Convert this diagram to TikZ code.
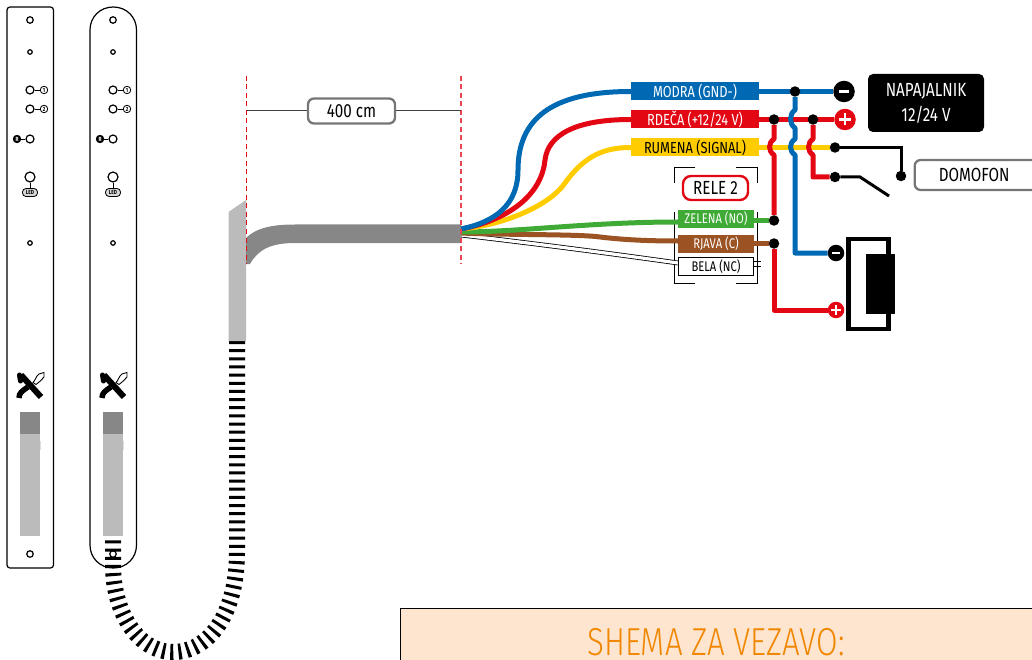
\documentclass[tikz,border=0pt]{standalone}
\usepackage{fontspec}
\setmainfont[FakeStretch=0.8]{Fira Sans}
\newfontfamily\titlefont[FakeStretch=0.8]{Fira Sans Light}
\usetikzlibrary{positioning, calc, backgrounds}

\begin{document}
\begin{tikzpicture}[x=1pt, y=-1pt, align=center,
        wire/.style={line width=5pt, line join=round},
        wireblue/.style={wire, draw=wblue},
        wirered/.style={wire, draw=wred},
        wireyellow/.style={wire, draw=wyellow},
        tag/.style={rectangle, minimum height=18pt, inner sep=0pt, font=\fontsize{16}{18}\selectfont},
        smalltag/.style={tag, minimum width=76pt, font=\fontsize{14}{16}\selectfont},
        bigtag/.style={tag, minimum width=128pt},
        dot/.style={circle, fill=black, minimum size=10.5pt, inner sep=0pt},
        pole/.style={circle, minimum size=16.5pt, inner sep=0pt},
        bigpole/.style={pole, minimum size=21.5pt},
        namebox/.style={draw=wgrey, line width=2.3pt, rounded corners=6pt, fill=white, inner sep=0pt, font=\fontsize{19}{21}\selectfont},
        hole/.style={circle, draw=black, line width=1.2pt, fill=white, inner sep=0pt},
        tinymark/.style={circle, draw=black, line width=.8pt, minimum size=7.5pt, inner sep=0pt, font=\bfseries\fontsize{6}{6}\selectfont},
        bracket/.style={draw=black, line width=1pt},
        switchline/.style={draw=black, line width=3pt}]
    % Define colors
    \definecolor{wblue}{HTML}{0069B4}
    \definecolor{wred}{HTML}{E30613}
    \definecolor{wyellow}{HTML}{FFCC00}
    \definecolor{wgreen}{HTML}{3FAA35}
    \definecolor{wbrown}{HTML}{9C5323}
    \definecolor{wgrey}{HTML}{767676}
    \definecolor{cablegrey}{HTML}{878787}
    \definecolor{sleevegrey}{HTML}{BBBBBB}
    \definecolor{panelfill}{HTML}{FDE5D0}
    \definecolor{titleorange}{HTML}{F18700}

    \useasboundingbox (0,0) rectangle (1032,660);

    % Plates
    \draw[line width=1.2pt, rounded corners=3pt] (7,7) rectangle (53.5,568);
    \draw[line width=1.2pt] (90,30) .. controls (90,17) and (100,7) .. (113.25,7) .. controls (126.5,7) and (136.5,17) .. (136.5,30)
        -- (136.5,545) .. controls (136.5,558) and (126.5,568) .. (113.25,568) .. controls (100,568) and (90,558) .. (90,545) -- cycle;

    \foreach \px in {30,113} {
        \begin{scope}[shift={(\px,0)}]
            \node[hole, minimum size=6.5pt] (top\px) at (0,20) {};
            \node[hole, minimum size=4.5pt] (upper\px) at (0,52) {};
            \node[hole, minimum size=8pt] (one\px) at (0,90) {};
            \node[hole, minimum size=8pt] (two\px) at (0,109) {};
            \node[hole, minimum size=8pt] (reset\px) at (0,139) {};
            \node[hole, minimum size=10pt] (led\px) at (0,177) {};
            \node[hole, minimum size=4.5pt] (lower\px) at (0,243) {};
            \node[tinymark] (oneMark\px) at (14,90) {1};
            \node[tinymark] (twoMark\px) at (14,109) {2};
            \node[tinymark, fill=black, text=white] (resetMark\px) at (-13,139) {R};
            \node[draw=black, line width=.8pt, fill=sleevegrey!60, rounded corners=3.5pt, minimum width=15pt, minimum height=8pt, inner sep=0pt, font=\bfseries\fontsize{6}{6}\selectfont] (ledMark\px) at (0,192.5) {LED};
            \draw[line width=.8pt] (one\px) -- (oneMark\px);
            \draw[line width=.8pt] (two\px) -- (twoMark\px);
            \draw[line width=.8pt] (reset\px) -- (resetMark\px);
            \draw[line width=.8pt] (led\px) -- (ledMark\px);

            % Logo
            \draw[line width=.9pt, fill=white] (3,382.5) .. controls (5,381) and (6,376) .. (9,374) -- (14,372.5) -- (14,377) .. controls (12,380) and (9,382) .. (6,384.5) -- cycle;
            \draw[line width=6pt] (-9,375) -- (11,397);
            \draw[line width=5pt, line cap=round] (-10.5,375) -- (-9.5,381);
            \draw[line width=5.5pt] (-11,398) .. controls (-11,393) and (-8,391) .. (-2,387);

            % Sleeve
            \fill[sleevegrey!50] (9,441) rectangle (11,450);
            \fill[sleevegrey] (-10,434) rectangle (10,536);
            \fill[cablegrey] (-10,412) rectangle (10,434);
        \end{scope}
    }
    \node[hole, minimum size=6.5pt] (foot30) at (30,554) {};
    \node[hole, minimum size=6.5pt] (foot113) at (113,554) {};

    % Ribbed cable
    \draw[line width=16pt, dash pattern=on 3pt off 5.15pt] (237,341) -- (237,552)
        .. controls (237,615) and (208,652) .. (173,652)
        .. controls (138,652) and (113,612) .. (113,565) -- (113,538);

    % Sleeve and cable
    \fill[sleevegrey] (228.5,212) -- (246,200) -- (246,341) -- (228.5,341) -- cycle;
    \fill[cablegrey] (246,238) .. controls (256,228) and (272,224.5) .. (295,224.5) -- (461,224.5)
        -- (461,243) -- (295,243) .. controls (270,243) and (258,250) .. (250,264) -- (246,264) -- cycle;

    % Length
    \draw[wred, line width=1.5pt, dash pattern=on 5pt off 3.5pt] (246.5,76) -- (246.5,264);
    \draw[wred!75, line width=1.5pt, dash pattern=on 5pt off 3.5pt] (461,76) -- (461,264);
    \coordinate (lenLeft) at (246.5,111);
    \coordinate (lenRight) at (461,111);
    \node[namebox, minimum width=87pt, minimum height=25pt] (length) at (351.5,111) {400 cm};
    \draw[line width=1pt, draw=black!75] (lenLeft) -- (length);
    \draw[line width=1pt, draw=black!75] (length) -- (lenRight);

    % Wire tags
    \node[bigtag, fill=wblue, text=white] (blueTag) at (695,91.5) {MODRA (GND-)};
    \node[bigtag, fill=wred, text=white] (redTag) at (695,119.5) {RDEČA (+12/24 V)};
    \node[bigtag, fill=wyellow, text=black] (yellowTag) at (695,147.5) {RUMENA (SIGNAL)};
    \node[smalltag, fill=wgreen, text=white] (greenTag) at (716,219) {ZELENA (NO)};
    \node[smalltag, fill=wbrown, text=white] (brownTag) at (716,244) {RJAVA (C)};
    \node[smalltag, draw=black, line width=1pt, fill=white, minimum width=75pt] (whiteTag) at (716,266.5) {BELA (NC)};

    \node[draw=wred, line width=2.4pt, rounded corners=8pt, minimum width=65pt, minimum height=24pt, inner sep=0pt, font=\fontsize{19}{21}\selectfont] (relay) at (715.5,188) {RELE 2};

    % Relay brackets
    \begin{scope}[on background layer]
        \draw[bracket] (674,183) -- (674,168) -- (695,168);
        \draw[bracket] (736,168) -- (757,168) -- (757,183);
        \draw[bracket] (674,212) -- (674,283) -- (695,283);
        \draw[bracket] (736,283) -- (757,283) -- (757,212);
    \end{scope}

    % Junctions and poles
    \node[dot] (blueTop) at (795,91.5) {};
    \node[dot] (redLeft) at (774,119.5) {};
    \node[dot] (redRight) at (813,119.5) {};
    \node[dot] (greenEnd) at (774,220.5) {};
    \node[dot] (brownEnd) at (774,243.5) {};
    \node[dot] (signalIn) at (835,147.5) {};
    \node[dot] (switchIn) at (835,177) {};
    \node[dot] (switchOut) at (901,176) {};

    % Lock
    \node[draw=black, line width=4.5pt, minimum width=40pt, minimum height=90pt, inner sep=0pt] (lock) at (868.5,284) {};
    \node[fill=black, minimum width=29pt, minimum height=60pt, inner sep=0pt] (lockCore) at (880.5,284) {};

    \node[bigpole, fill=black] (supplyMinus) at (844,91.5) {};
    \node[bigpole, fill=wred] (supplyPlus) at (845,119.5) {};
    \node[pole, fill=black] (lockMinus) at (836,253) {};
    \node[pole, fill=wred] (lockPlus) at (836,310) {};
    \draw[white, line width=2.6pt] ($(supplyMinus)+(-5,0)$) -- ($(supplyMinus)+(5,0)$);
    \draw[white, line width=2.6pt] ($(supplyPlus)+(-6,0)$) -- ($(supplyPlus)+(6,0)$);
    \draw[white, line width=2.6pt] ($(supplyPlus)+(0,-6)$) -- ($(supplyPlus)+(0,6)$);
    \draw[white, line width=2.2pt] ($(lockMinus)+(-4,0)$) -- ($(lockMinus)+(4,0)$);
    \draw[white, line width=2.2pt] ($(lockPlus)+(-5,0)$) -- ($(lockPlus)+(5,0)$);
    \draw[white, line width=2.2pt] ($(lockPlus)+(0,-5)$) -- ($(lockPlus)+(0,5)$);

    % Supply and door unit
    \node[fill=black, text=white, rounded corners=5pt, minimum width=116pt, minimum height=58pt, inner sep=0pt, font=\fontsize{19}{25}\selectfont] (supply) at (926,103) {NAPAJALNIK\\12/24 V};
    \node[namebox, minimum width=125pt, minimum height=30pt, anchor=west] (intercom) at (913.5,175) {DOMOFON\hspace*{6pt}};

    % Edges
    \coordinate (fan) at (461,229);
    \begin{scope}[on background layer]
        \fill[panelfill] (400,608) rectangle (1040,670);
        \draw[draw=black, line width=.8pt, double=white, double distance=3.2pt] (461,235) .. controls (530,243) and (600,252) .. ($(whiteTag.west)+(0,-3.5)$);
        \draw[line width=.8pt] (753,261) -- (761,261);
        \draw[line width=.8pt] (753,266) -- (761,266);
        \draw[wire, wbrown] (461,233) .. controls (500,235) and (580,234) .. (600,237) .. controls (625,240) and (650,241) .. ($(brownTag.west)+(0,-3)$);
        \draw[wire, wgreen] (461,232) .. controls (520,232) and (590,222) .. ($(greenTag.west)+(0,3)$);
        \draw[wireyellow] (fan) .. controls (505,225) and (550,205) .. (565,183) .. controls (585,155) and (605,147.5) .. (yellowTag.west);
        \draw[wirered] (fan) .. controls (500,222) and (541,200) .. (545,160) .. controls (548,135) and (575,119.5) .. (redTag.west);
        \draw[wireblue] (fan) .. controls (495,222) and (518,205) .. (518,170) .. controls (518,120) and (550,91.5) .. (blueTag.west);

        % Right of tags
        \draw[wire, wgreen] (greenTag.east |- greenEnd) -- (greenEnd);
        \draw[wire, wbrown] (brownTag.east |- brownEnd) -- (brownEnd);
        \draw[wireyellow] (yellowTag.east) -- (signalIn);
        \draw[wirered] (redTag.east) -- (supplyPlus);
        \draw[wirered] (redLeft) -- (774,139) .. controls (768,143) and (768,151) .. (774,155) -- (greenEnd);
        \draw[wirered] (brownEnd) -- (774,310) -- (lockPlus);
        \draw[wirered] (redRight) -- (813,139) .. controls (807,143) and (807,151) .. (813,155) -- (813,177) -- (switchIn);
        \draw[wireblue] (blueTag.east) -- (supplyMinus);
        \draw[wireblue] (blueTop) -- (795,110) .. controls (789,114) and (789,124) .. (795,128) -- (795,139) .. controls (789,143) and (789,151) .. (795,155) -- (795,253) -- (lockMinus);
    \end{scope}

    % Switch
    \draw[switchline] (signalIn) -- (901,147.5) -- (switchOut);
    \draw[switchline] (switchIn) -- (860,177) -- (889,196);

    % Panel
    \draw[black, line width=1.8pt] (400.5,670) -- (400.5,608.5) -- (1040,608.5);
    \node[anchor=base, text=titleorange, font=\titlefont\fontsize{39}{41}\selectfont, inner sep=0pt] (title) at (716,655) {SHEMA ZA VEZAVO:};
\end{tikzpicture}
\end{document}
